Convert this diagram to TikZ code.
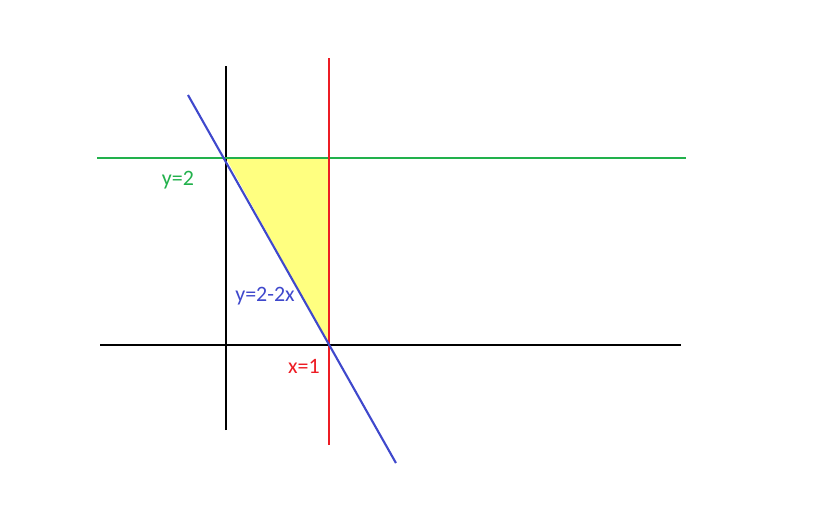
\documentclass[tikz,border=0pt]{standalone}
\usepackage{fontspec}
\setmainfont{Carlito}
\usetikzlibrary{positioning}
\definecolor{paintgreen}{RGB}{34,177,76}
\definecolor{paintred}{RGB}{237,28,36}
\definecolor{paintblue}{RGB}{63,72,204}
\definecolor{paintyellow}{RGB}{255,255,128}
\tikzset{
    graph line/.style={line width=1.6pt},
    thin graph line/.style={line width=1.2pt},
    graph label/.style={font=\fontsize{12.5}{15}\selectfont, inner sep=1pt}
}
\begin{document}
\begin{tikzpicture}[x=2.06cm, y=1.87cm]
    \useasboundingbox (-2.194,-1.711) rectangle (5.786,3.690);

    % Puntos
    \coordinate (o)  at (0,0);
    \coordinate (a)  at (0,2);
    \coordinate (b)  at (1,2);
    \coordinate (c)  at (1,0);

    % Region
    \fill[paintyellow] (a) -- (b) -- (c) -- cycle;

    % Ejes
    \coordinate (xl) at (-1.223,0);
    \coordinate (xr) at (4.417,0);
    \coordinate (yt) at (0,2.984);
    \coordinate (yb) at (0,-0.909);
    \draw[graph line, black] (xl) -- (xr);
    \draw[graph line, black] (yb) -- (yt);

    % Rectas
    \coordinate (gl) at (-1.252,2);
    \coordinate (gr) at (4.466,2);
    \coordinate (rt) at (1,3.07);
    \coordinate (rb) at (1,-1.07);
    \coordinate (bt) at (-0.369,2.674);
    \coordinate (bb) at (1.65,-1.262);
    \draw[graph line, paintgreen]     (gl) -- (gr);
    \draw[graph line, paintred]       (rb) -- (rt);
    \draw[thin graph line, paintblue] (bt) -- (bb);

    % Etiquetas
    \node[graph label, text=paintgreen] (lg) at (-0.466,1.765) {y=2};
    \node[graph label, text=paintblue]  (lb) at (0.379,0.524)  {y=2-2x};
    \node[graph label, text=paintred]   (lr) at (0.757,-0.225) {x=1};

\end{tikzpicture}
\end{document}
